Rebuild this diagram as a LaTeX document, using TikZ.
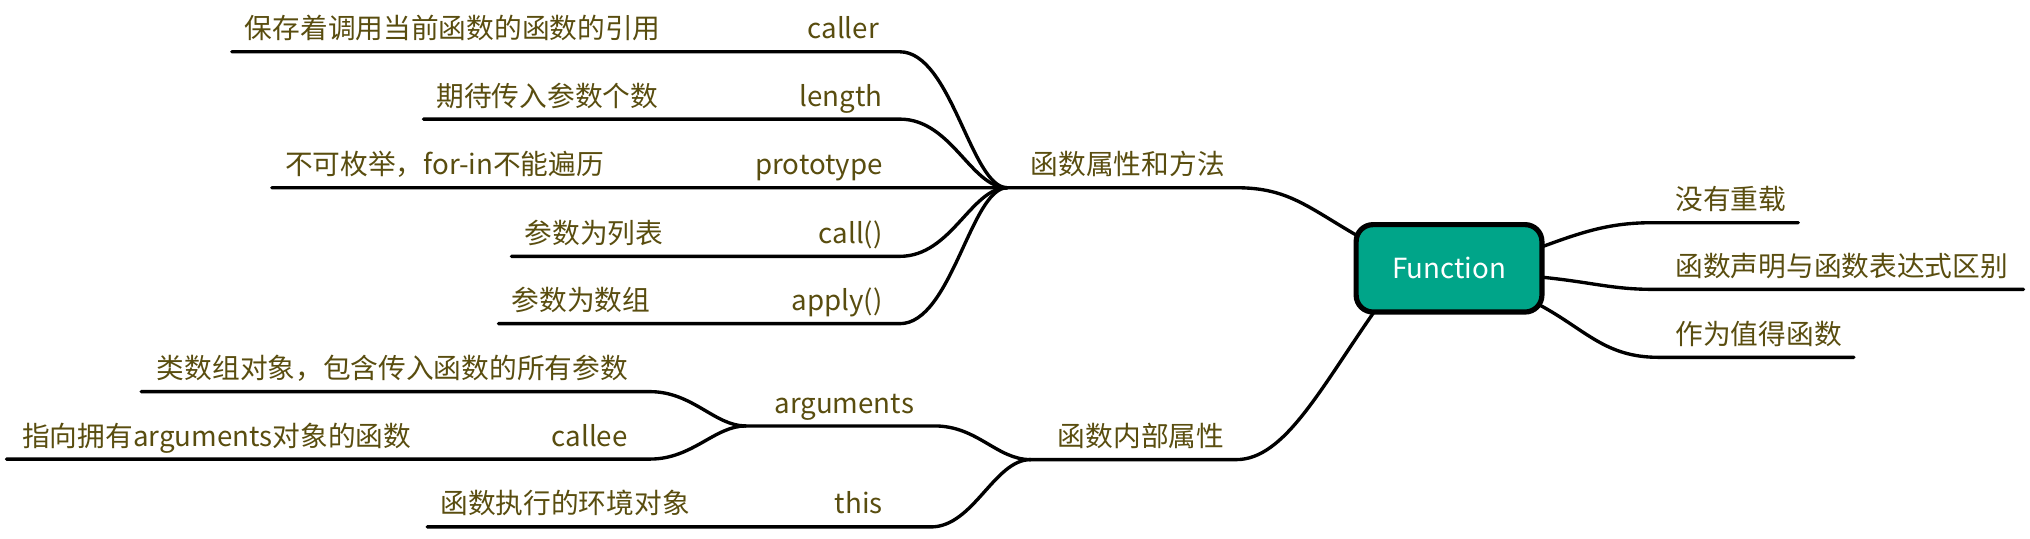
\documentclass[tikz,border=0pt]{standalone}
\usepackage{fontspec}
\setmainfont{Noto Sans CJK SC}
\definecolor{txt}{RGB}{89,77,15}
\definecolor{teal}{RGB}{0,165,137}
\begin{document}
\begin{tikzpicture}[x=1pt,y=-1pt,
  br/.style={line width=2.6pt,line cap=round,black},
  lbl/.style={inner sep=0pt,text=txt,font=\fontsize{21.4}{24}\selectfont},
  lw/.style={lbl,anchor=base west},
  le/.style={lbl,anchor=base east},
  mainbox/.style={draw=black,line width=4pt,fill=teal,rounded corners=13pt,
    minimum width=143.5pt,minimum height=67.5pt,inner sep=0pt,
    text=white,font=\fontsize{21.4}{24}\selectfont}]
\useasboundingbox (0,0) rectangle (1568,416);

% ---- coordinates
\coordinate (hubA) at (778,145);
\coordinate (callerL) at (179,40);   \coordinate (callerR) at (695,40);
\coordinate (lengthL) at (327,92);   \coordinate (lengthR) at (695,92);
\coordinate (protoL) at (210,145);
\coordinate (callL) at (395,198);    \coordinate (callR) at (695,198);
\coordinate (applyL) at (385,250);   \coordinate (applyR) at (695,250);
\coordinate (propR) at (955,145);

\coordinate (hubB) at (796,355);
\coordinate (innerR) at (955,355);
\coordinate (hubC) at (576,329);     \coordinate (argsR) at (722,329);
\coordinate (thisL) at (330,407);    \coordinate (thisR) at (719,407);
\coordinate (likeL) at (109,302.5);  \coordinate (likeR) at (502,302.5);
\coordinate (calleeL) at (5,354.6);  \coordinate (calleeR) at (502,354.6);

\coordinate (r1L) at (1277,172);     \coordinate (r1R) at (1389,172);
\coordinate (r2L) at (1277,223.5);   \coordinate (r2R) at (1563,223.5);
\coordinate (r3L) at (1281,276);     \coordinate (r3R) at (1432,276);

\coordinate (fnA) at (1050,183);
\coordinate (fnB) at (1062,240);
\coordinate (fnC) at (1190,191);
\coordinate (fnD) at (1190,214);
\coordinate (fnE) at (1190,236);

% ---- upper group
\draw[br] (callerL) -- (callerR) .. controls (735,40) and (750,145) .. (hubA);
\draw[br] (lengthL) -- (lengthR) .. controls (735,92) and (750,145) .. (hubA);
\draw[br] (protoL) -- (hubA) -- (propR) .. controls (995,145) and (1010,160) .. (fnA);
\draw[br] (callL) -- (callR) .. controls (735,198) and (750,145) .. (hubA);
\draw[br] (applyL) -- (applyR) .. controls (735,250) and (750,145) .. (hubA);

% ---- lower group
\draw[br] (likeL) -- (likeR) .. controls (535,302.5) and (552,329) .. (hubC);
\draw[br] (calleeL) -- (calleeR) .. controls (535,354.6) and (552,329) .. (hubC);
\draw[br] (hubC) -- (argsR) .. controls (755,329) and (770,355) .. (hubB);
\draw[br] (thisL) -- (thisR) .. controls (752,407) and (768,355) .. (hubB);
\draw[br] (hubB) -- (innerR) .. controls (992,355) and (1020,300) .. (fnB);

% ---- right group
\draw[br] (fnC) .. controls (1225,178) and (1245,172) .. (r1L) -- (r1R);
\draw[br] (fnD) .. controls (1230,218) and (1245,223.5) .. (r2L) -- (r2R);
\draw[br] (fnE) .. controls (1225,255) and (1240,276) .. (r3L) -- (r3R);

% ---- central node
\node[mainbox] (fn) at (1119.25,207.25) {Function};

% ---- labels
\node[lw] (callerT) at (189,30) {保存着调用当前函数的函数的引用};
\node[le] (callerK) at (679,30) {caller};
\node[lw] (lengthT) at (337,82) {期待传入参数个数};
\node[le] (lengthK) at (682,82) {length};
\node[lw] (protoT) at (220,135) {不可枚举，for-in不能遍历};
\node[le] (protoK) at (682,135) {prototype};
\node[lw] (callT) at (405,188) {参数为列表};
\node[le] (callK) at (682,188) {call()};
\node[lw] (applyT) at (395,240) {参数为数组};
\node[le] (applyK) at (682,240) {apply()};
\node[lw] (propT) at (796,135) {函数属性和方法};

\node[lw] (innerT) at (817,345) {函数内部属性};
\node[lw] (argsT) at (598,319) {arguments};
\node[lw] (likeT) at (121,292.5) {类数组对象，包含传入函数的所有参数};
\node[lw] (calleeT) at (17,344.6) {指向拥有arguments对象的函数};
\node[le] (calleeK) at (485,344.6) {callee};
\node[lw] (thisT) at (340,397) {函数执行的环境对象};
\node[le] (thisK) at (682,397) {this};

\node[lw] (r1T) at (1294,162) {没有重载};
\node[lw] (r2T) at (1294,213.5) {函数声明与函数表达式区别};
\node[lw] (r3T) at (1294,266) {作为值得函数};
\end{tikzpicture}
\end{document}
